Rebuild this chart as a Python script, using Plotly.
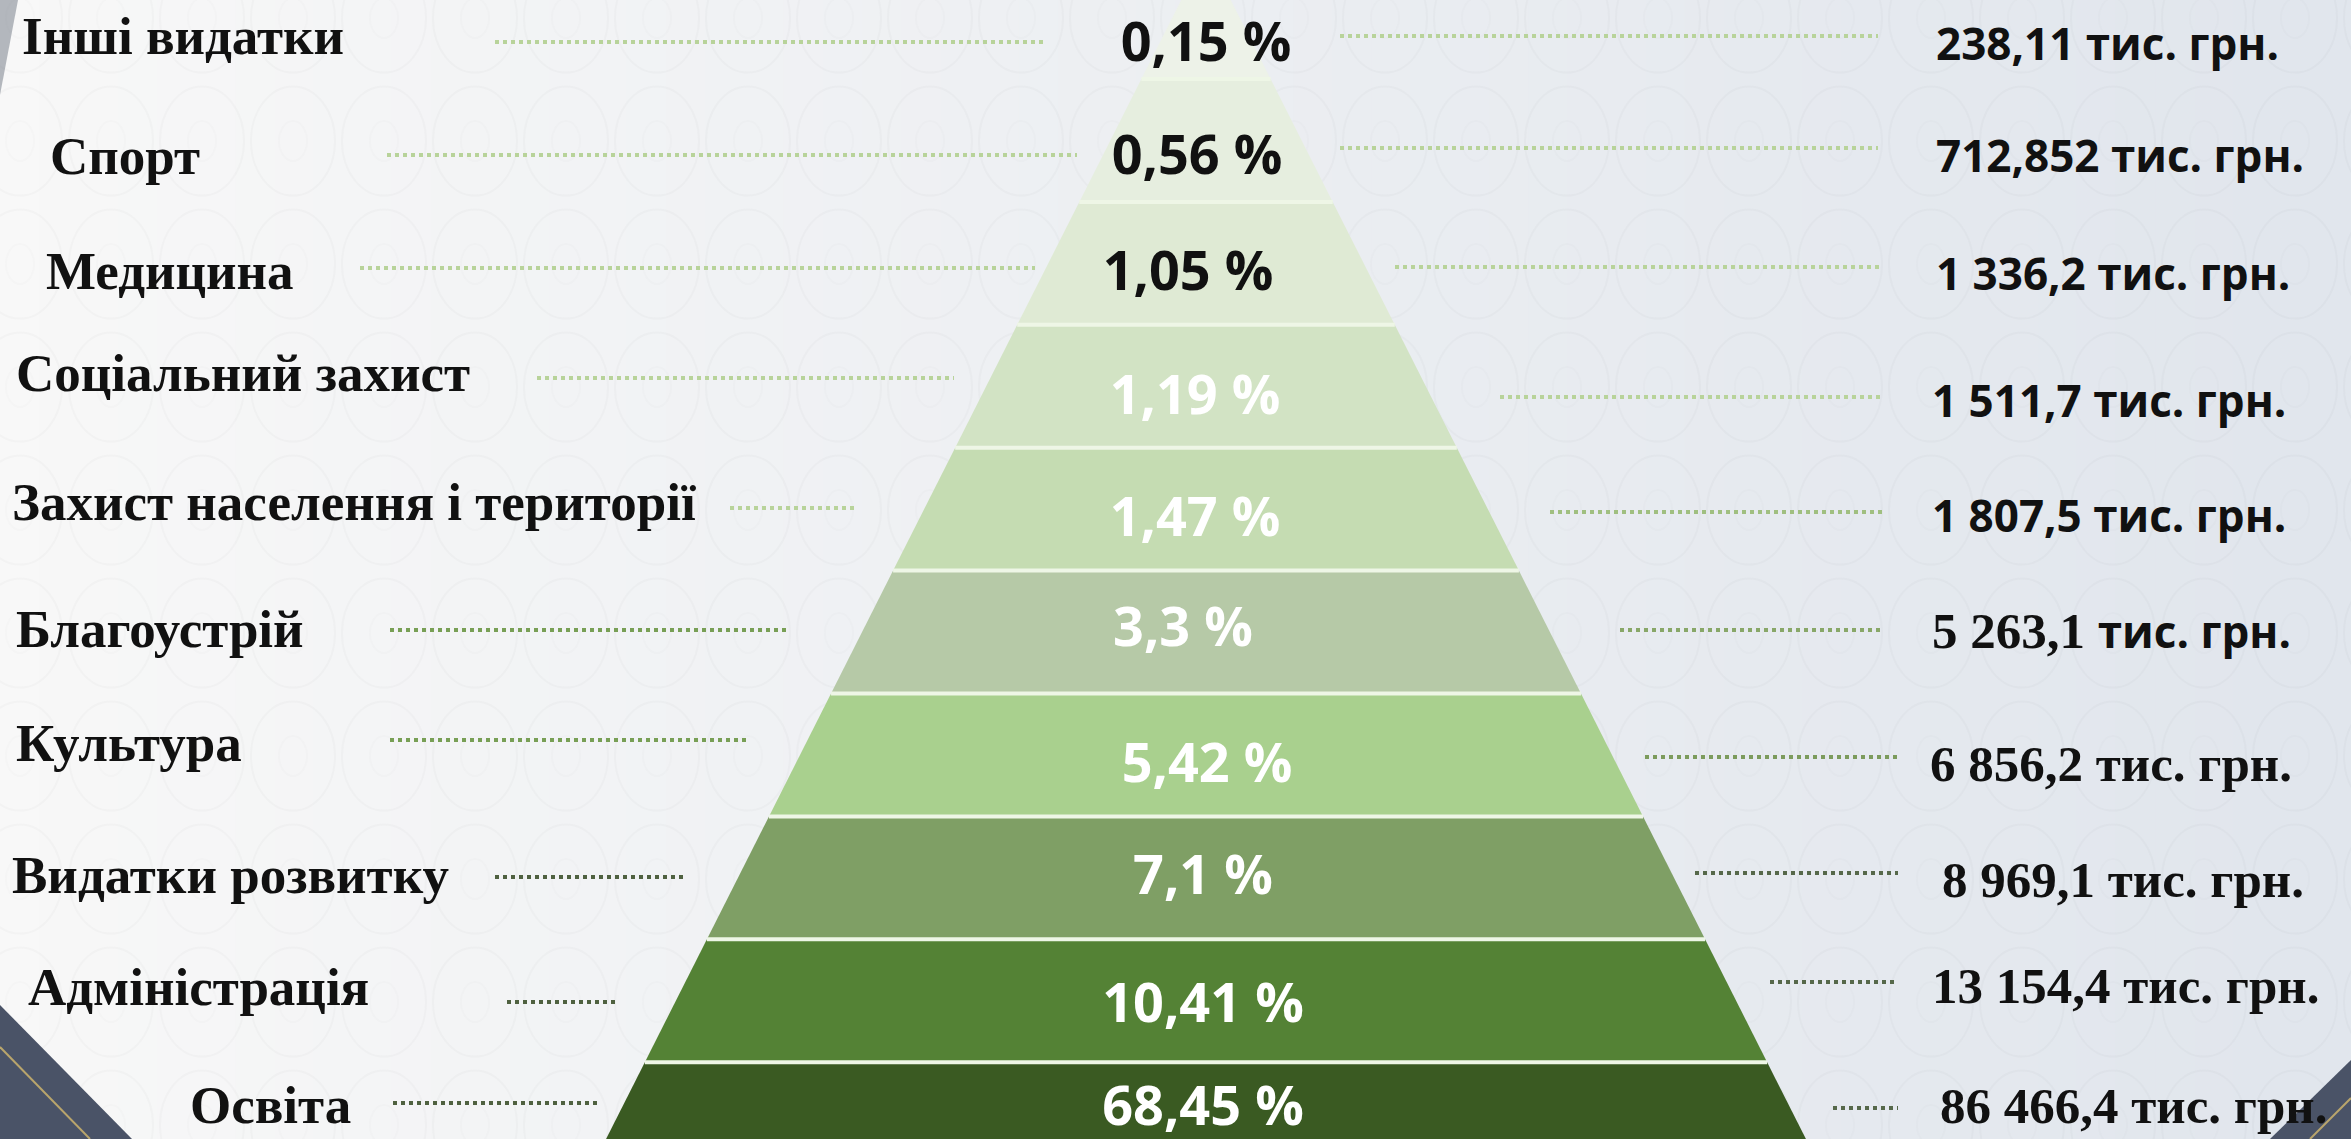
import plotly.graph_objects as go

# --- data (top of pyramid first) ---
categories = [
    "Інші видатки", "Спорт", "Медицина", "Соціальний захист",
    "Захист населення і території", "Благоустрій", "Культура",
    "Видатки розвитку", "Адміністрація", "Освіта",
]
shares = [0.15, 0.56, 1.05, 1.19, 1.47, 3.3, 5.42, 7.1, 10.41, 68.45]
amounts = [238.11, 712.852, 1336.2, 1511.7, 1807.5, 5263.1, 6856.2, 8969.1, 13154.4, 86466.4]
unit = "тис. грн."

band_colors = ["#edf2e8", "#e6eedf", "#dfead4", "#d2e3c4", "#c5dcb2",
               "#b6c9a7", "#a9d08e", "#7f9f65", "#548235", "#3a5a22"]

# --- layout geometry (pixels) ---
W, H = 2351, 1139
CX = 1206          # pyramid axis
APEX_Y = -49       # where the slanted edges meet
FIRST = 79         # first band boundary
STEP = 122.9       # band height
SLOPE = 0.505      # half-width per pixel of height

left_x = [22, 50, 46, 16, 12, 16, 16, 12, 28, 190]
left_y = [41, 161, 276, 378, 507, 634, 748, 880, 992, 1110]
pct_x = [1206, 1197, 1188, 1195, 1195, 1183, 1207, 1203, 1203, 1203]
pct_y = [47, 160, 276, 400, 522, 632, 768, 880, 1008, 1111]
right_x = [1936, 1936, 1936, 1932, 1932, 1932, 1930, 1942, 1932, 1940]
right_y = [49, 161, 279, 406, 521, 635, 768, 884, 990, 1110]
right_style = ["sans"] * 5 + ["mixed"] + ["serif"] * 4

lead_left = [(495, 1045, 42), (387, 1077, 155), (360, 1035, 268), (537, 954, 378),
             (730, 858, 508), (390, 790, 630), (390, 750, 740), (495, 687, 877),
             (507, 618, 1002), (393, 597, 1103)]
lead_right = [(1340, 1878, 36), (1340, 1878, 148), (1395, 1883, 267), (1500, 1883, 397),
              (1550, 1886, 512), (1620, 1883, 630), (1645, 1898, 757), (1695, 1898, 873),
              (1770, 1898, 982), (1833, 1898, 1108)]
lead_left_col = ["#b8d39a"] * 5 + ["#789f55", "#789f55", "#4f6140", "#4f6140", "#4f6140"]
lead_right_col = ["#b8d39a"] * 4 + ["#a0bf80", "#88a768", "#7c9b5c", "#56684a", "#56684a", "#56684a"]

SERIF = "Liberation Serif"
SANS = "Open Sans"


def fmt_share(v):
    return str(v).replace(".", ",") + " %"


def fmt_amount(v):
    whole, _, frac = str(v).partition(".")
    grouped = "{:,}".format(int(whole)).replace(",", " ")
    return grouped + ("," + frac if frac else "")


def half_width(y):
    return SLOPE * (y - APEX_Y)


fig = go.Figure()

# background gradient (white on the left, cool grey-blue on the right)
shapes = []
n_strips = 60
for k in range(n_strips):
    t = k / (n_strips - 1)
    r = int(248 + (225 - 248) * t)
    g = int(248 + (230 - 248) * t)
    b = int(248 + (237 - 248) * t)
    shapes.append(dict(type="rect", xref="x", yref="y", layer="below",
                       x0=W * k / n_strips, x1=W * (k + 1) / n_strips + 1, y0=0, y1=H,
                       fillcolor=f"rgb({r},{g},{b})", line=dict(width=0)))

# faint ornamental circles of the slide background
PAT_DX, PAT_DY, PAT_R = 91, 123, 42
for row in range(10):
    cy = 18 + PAT_DY * row
    for col in range(27):
        cx = 20 + PAT_DX * col
        shapes.append(dict(type="circle", xref="x", yref="y", layer="below",
                           x0=cx - PAT_R, x1=cx + PAT_R, y0=cy - PAT_R * 1.3, y1=cy + PAT_R * 1.3,
                           line=dict(color="rgba(80,90,100,0.03)", width=2)))
        shapes.append(dict(type="circle", xref="x", yref="y", layer="below",
                           x0=cx - 14, x1=cx + 14, y0=cy - 20, y1=cy + 20,
                           line=dict(color="rgba(80,90,100,0.02)", width=2)))

# corner decorations
shapes += [
    dict(type="path", xref="x", yref="y", layer="below", path="M 0 0 L 18 0 L 0 95 Z",
         fillcolor="rgba(110,118,130,0.5)", line=dict(width=0)),
    dict(type="path", xref="x", yref="y", layer="below", path=f"M 0 1005 L 132 {H} L 0 {H} Z",
         fillcolor="#4a5367", line=dict(width=0)),
    dict(type="line", xref="x", yref="y", layer="below", x0=0, y0=1047, x1=90, y1=H,
         line=dict(color="#b9a56c", width=2)),
    dict(type="path", xref="x", yref="y", layer="below", path=f"M {W} 1060 L 2270 {H} L {W} {H} Z",
         fillcolor="#4a5367", line=dict(width=0)),
    dict(type="line", xref="x", yref="y", layer="below", x0=W, y0=1098, x1=2310, y1=H,
         line=dict(color="#b9a56c", width=2)),
]

# pyramid bands
for i, cat in enumerate(categories):
    top = APEX_Y if i == 0 else FIRST + STEP * (i - 1)
    bot = FIRST + STEP * i
    ht, hb = half_width(top), half_width(bot)
    fig.add_trace(go.Scatter(
        x=[CX - ht, CX + ht, CX + hb, CX - hb, CX - ht],
        y=[top, top, bot, bot, top],
        mode="lines", fill="toself", fillcolor=band_colors[i],
        line=dict(width=0), name=cat, hoverinfo="name",
    ))

# light separators between bands
for i in range(1, len(categories)):
    y = FIRST + STEP * (i - 1)
    hw = half_width(y)
    fig.add_trace(go.Scatter(x=[CX - hw, CX + hw], y=[y, y], mode="lines",
                             line=dict(color="#eef6e6", width=4), hoverinfo="skip"))

# dotted leaders
for (x0, x1, y), col in zip(lead_left, lead_left_col):
    fig.add_trace(go.Scatter(x=[x0, x1], y=[y, y], mode="lines", hoverinfo="skip",
                             line=dict(color=col, width=4, dash="4px,4px")))
for (x0, x1, y), col in zip(lead_right, lead_right_col):
    fig.add_trace(go.Scatter(x=[x0, x1], y=[y, y], mode="lines", hoverinfo="skip",
                             line=dict(color=col, width=4, dash="4px,4px")))

# category names
fig.add_trace(go.Scatter(
    x=left_x, y=left_y, mode="text", text=[f"<b>{c}</b>" for c in categories],
    textposition="middle right", hoverinfo="skip",
    textfont=dict(family=SERIF, size=53, color="#111111"),
))

# shares inside the pyramid
fig.add_trace(go.Scatter(
    x=pct_x, y=pct_y, mode="text", text=[f"<b>{fmt_share(v)}</b>" for v in shares],
    textposition="middle center", hoverinfo="skip",
    textfont=dict(family=SANS, size=54,
                  color=["#111111"] * 3 + ["#ffffff"] * 7),
))

# amounts
right_text = []
right_font = []
right_size = []
for v, style in zip(amounts, right_style):
    num = fmt_amount(v)
    if style == "sans":
        right_text.append(f"<b>{num} {unit}</b>")
        right_font.append(SANS)
        right_size.append(44)
    elif style == "serif":
        right_text.append(f"<b>{num} {unit}</b>")
        right_font.append(SERIF)
        right_size.append(51)
    else:
        right_text.append(f"<b>{num} <span style='font-family:{SANS};font-size:44px'>{unit}</span></b>")
        right_font.append(SERIF)
        right_size.append(51)

fig.add_trace(go.Scatter(
    x=right_x, y=right_y, mode="text", text=right_text,
    textposition="middle right", hoverinfo="skip",
    textfont=dict(family=right_font, size=right_size, color="#111111"),
))

fig.update_layout(
    width=W, height=H,
    margin=dict(l=0, r=0, t=0, b=0),
    paper_bgcolor="#f2f3f5", plot_bgcolor="#f2f3f5",
    showlegend=False,
    shapes=shapes,
    xaxis=dict(range=[0, W], visible=False, fixedrange=True),
    yaxis=dict(range=[H, 0], visible=False, fixedrange=True),
)

fig.write_html("out.html", config={"displayModeBar": False},
               post_script="document.body.style.margin = '0';")
